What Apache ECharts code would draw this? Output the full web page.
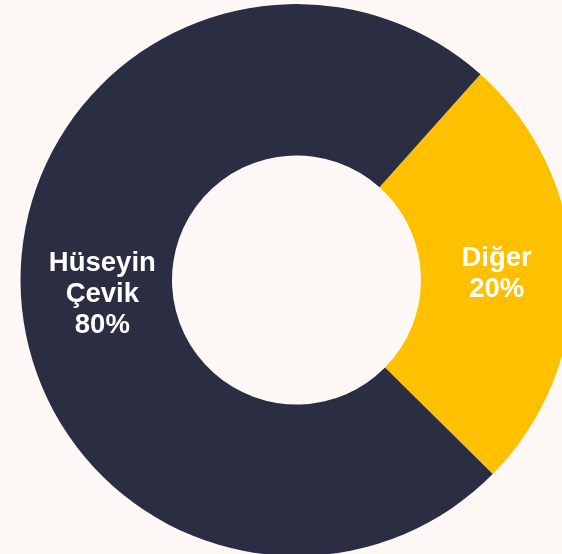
<!DOCTYPE html>
<html>
<head>
<meta charset="utf-8">
<script src="https://cdn.jsdelivr.net/npm/echarts@6/dist/echarts.min.js"></script>
<style>
	html, body { margin: 0; padding: 0; background: #fdf8f5; }
	#pie { width: 562px; height: 554px; }
</style>
</head>
<body>
<div id="pie"></div>
<script>
// categories, arc shares as drawn, and the percent text printed on each slice
var categories = ["Diğer", "Hüseyin Çevik"];
var shares = [25.8, 74.2];
var labelPct = [20, 80];
var colors = ["#ffc000", "#2b2d42"];
var labelShift = [[-3, 0], [9, 8]];

var data = [];
for (var i = 0; i < categories.length; i++) {
	data.push({
		"name": categories[i],
		"value": shares[i],
		"itemStyle": { "color": colors[i] },
		"label": { "offset": labelShift[i] }
	});
}

var option = {
	"backgroundColor": "#fdf8f5",
	"animation": false,
	"tooltip": { "show": false },
	"legend": { "show": false },
	"series": [{
		"type": "pie",
		"center": [296.5, 280],
		"radius": [124.5, 276],
		"startAngle": 48.2,
		"clockwise": true,
		"emphasis": { "disabled": true },
		"label": {
			"show": true,
			"position": "inside",
			"color": "#ffffff",
			"fontFamily": "Liberation Sans, Arial, sans-serif",
			"fontWeight": "bold",
			"fontSize": 27.5,
			"lineHeight": 31,
			"align": "center",
			"formatter": function(p) {
				return p.name.split(" ").join("\n") + "\n" + labelPct[p.dataIndex] + "%";
			}
		},
		"labelLine": { "show": false },
		"data": data
	}]
};

var chart = echarts.init(document.getElementById("pie"));
chart.setOption(option);
</script>
</body>
</html>
